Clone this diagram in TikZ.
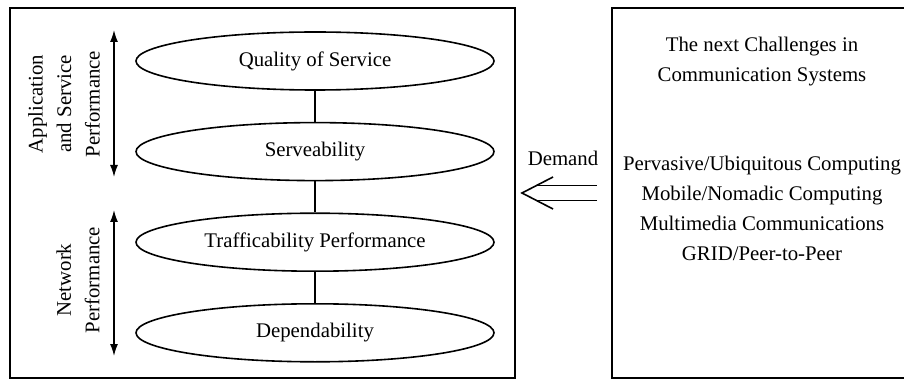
\documentclass[tikz,border=0pt]{standalone}
\usepackage{fontspec}
\setmainfont{Liberation Serif}
\usetikzlibrary{positioning,shapes.geometric,arrows.meta,calc}

\tikzset{
  frame/.style={draw, line width=1pt, inner sep=0pt, minimum height=185pt},
  layer/.style={ellipse, draw, line width=0.8pt, minimum width=179pt, minimum height=29pt, inner sep=0pt},
  link/.style={line width=0.7pt},
  span/.style={{Latex[length=6pt,width=4pt]}-{Latex[length=6pt,width=4pt]}, line width=0.7pt},
  txt/.style={align=center},
  sidelab/.style={rotate=90, align=center, font=\fontsize{10.4}{14.3}\selectfont},
  demand/.style={double, double distance=6.7pt, line width=0.8pt},
  barb/.style={line width=0.8pt, line join=miter},
}

\begin{document}
\begin{tikzpicture}[x=0.5pt, y=-0.5pt, font=\fontsize{10.4}{15}\selectfont]
    \useasboundingbox (0,0) rectangle (904,379);
    \clip (0,0) rectangle (904,379);

    % the two frames (the right one runs off the page)
    \node[frame, minimum width=252.5pt] (perf) at (262.5,193) {};
    \draw[line width=1pt] (930,8) -| (612,378) -- (930,378);
    \coordinate (chall) at (612,193);

    % the performance layers
    \node[layer] (qos) at (315,61) {Quality of Service};
    \node[layer, below=15.5pt of qos] (serv) {Serveability};
    \node[layer, below=15.5pt of serv] (traf) {Trafficability Performance};
    \node[layer, below=15.5pt of traf] (dep) {Dependability};
    \foreach \a/\b in {qos/serv, serv/traf, traf/dep}{
      \draw[link] (\a) -- (\b);
    }

    % side ranges
    \coordinate (as top) at (114,30);
    \coordinate (as bot) at (114,177);
    \coordinate (np top) at (114,210);
    \coordinate (np bot) at (114,356);
    \draw[span] (as top) -- (as bot);
    \draw[span] (np top) -- (np bot);
    \node[sidelab] (aslab) at (64,104) {Application\\and Service\\Performance};
    \node[sidelab] (nplab) at (78,280) {Network\\Performance};

    % challenges
    \node[txt] (title) at (762,62) {The next Challenges in\\Communication Systems};
    \node[txt] (list) at (762,208) {Pervasive/Ubiquitous Computing\\Mobile/Nomadic Computing\\Multimedia Communications\\GRID/Peer-to-Peer};

    % demand arrow
    \node (dem) at (563,158) {Demand};
    \draw[demand, shorten <=7.5pt, shorten >=10pt] (chall) -- (perf.east);
    \draw[barb] ($(perf.east)+(37,-16)$) -- ($(perf.east)+(6,0)$) -- ($(perf.east)+(37,16)$);
\end{tikzpicture}
\end{document}
